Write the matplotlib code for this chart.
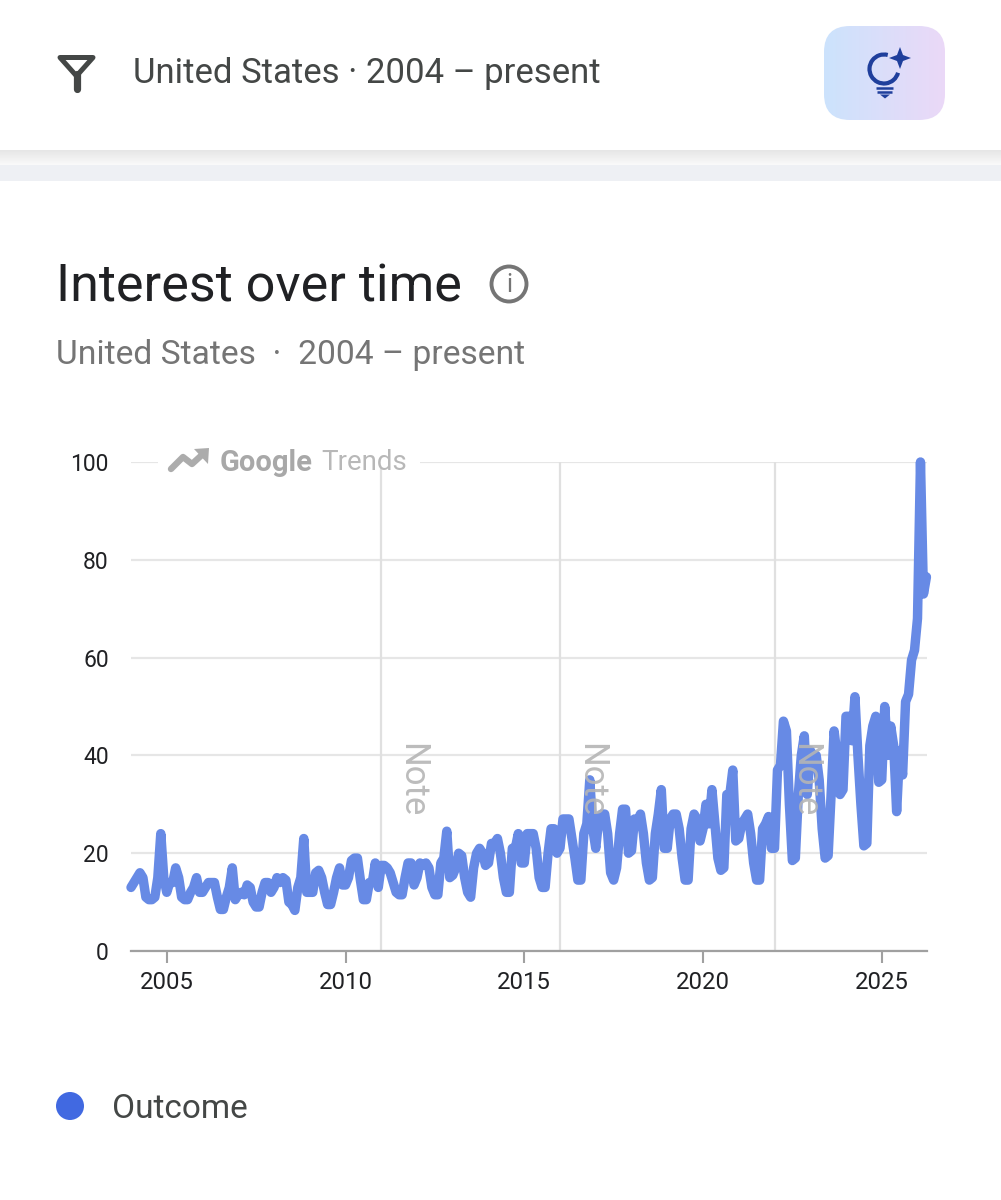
import numpy as np
import matplotlib
matplotlib.use('Agg')
import matplotlib.pyplot as plt
from matplotlib.patches import FancyBboxPatch, Circle, Polygon, Arc

plt.rcParams['font.family'] = ['Roboto', 'DejaVu Sans']

# Monthly interest values, Jan 2004 onwards
v2004 = [13, 14, 15, 16, 15, 11, 10.5, 10.5, 11, 15, 24, 15]
v2005 = [12, 14, 14, 17, 15, 11, 10.5, 10.5, 12, 13, 15, 12]
v2006 = [12, 13, 14, 14, 14, 11, 8.5, 8.5, 11, 13, 17, 10.5]
v2007 = [11.5, 12, 11.5, 13.5, 13, 10, 9, 9, 12, 14, 14, 12]
v2008 = [13, 15, 14, 15, 14.5, 10, 9.5, 8.3, 13, 15, 23, 12]
v2009 = [12, 12, 16, 16.5, 15, 12, 9.5, 9.5, 12, 15, 17, 13.5]
v2010 = [13.5, 15, 18.5, 19, 19, 14.5, 10.5, 10.5, 14, 14, 18, 13]
v2011 = [17.5, 17.5, 17, 16, 14, 12, 11.5, 11.5, 15, 18, 18, 13.5]
v2012 = [15, 18, 17.5, 18, 17, 13, 11.5, 11.5, 18, 19, 24.5, 15]
v2013 = [15.5, 17, 20, 19.5, 15, 12, 11, 17, 20, 21, 20, 17.5]
v2014 = [18, 22, 22, 23, 20, 15, 12, 12, 21, 21, 24, 18]
v2015 = [18, 24, 24, 24, 21, 15, 13, 13, 20, 25, 25, 20]
v2016 = [21, 27, 27, 27, 23, 19, 14.5, 14.5, 24, 26, 35, 25]
v2017 = [21, 27, 28, 28, 24, 16, 14.5, 17, 24, 29, 29, 20]
v2018 = [20.5, 27, 26.5, 28, 24, 18, 14.5, 15, 24, 28, 33, 21]
v2019 = [21, 27, 28, 28, 25, 19, 14.5, 14.5, 25, 28, 27, 22.5]
v2020 = [25, 30, 26, 33, 26, 19, 16.5, 17, 32, 32, 37, 22.5]
v2021 = [23, 26, 27, 28, 24, 18, 14.5, 14.5, 25, 26, 27.5, 21]
v2022 = [21, 37, 38, 47, 45, 30, 18.5, 19, 32, 40, 44, 32]
v2023 = [41, 40, 40, 35, 25, 19, 19.5, 32, 45, 40, 32, 33]
v2024 = [48, 48, 43, 52, 40, 30, 21.5, 22, 42, 46, 48, 34.5]
v2025 = [35, 50, 40, 46, 42, 28.5, 41, 36, 51, 52.5, 59.5, 61.5]
v2026 = [68, 100, 73, 76.5]

interest = (v2004 + v2005 + v2006 + v2007 + v2008 + v2009 + v2010 + v2011 + v2012
            + v2013 + v2014 + v2015 + v2016 + v2017 + v2018 + v2019 + v2020 + v2021
            + v2022 + v2023 + v2024 + v2025 + v2026)
years = [2004 + i / 12 for i in range(len(interest))]

y_ticks = [0, 20, 40, 60, 80, 100]
x_ticks = [2005, 2010, 2015, 2020, 2025]
note_years = [2011, 2016, 2022]

W, H = 1001, 1200
fig = plt.figure(figsize=(W / 100, H / 100), dpi=100, facecolor='white')

# Page furniture, in pixel coordinates
ui = fig.add_axes([0, 0, 1, 1], zorder=2)
ui.set_xlim(0, W)
ui.set_ylim(H, 0)
ui.axis('off')

# shadow under the header and the grey band
shadow = np.linspace(0.90, 0.98, 16).reshape(-1, 1)
ui.imshow(shadow, extent=[0, W, 166, 150], cmap='gray', vmin=0, vmax=1, aspect='auto')
ui.fill_between([0, W], 165, 181, color='#eef0f4', lw=0)
ui.set_xlim(0, W)
ui.set_ylim(H, 0)

# filter icon
ui.add_patch(Polygon([(60, 57.5), (93, 57.5), (76.5, 76)], closed=True, fill=False, ec='#444746',
                     lw=3.6, joinstyle='round'))
ui.plot([76.5, 76.5], [74, 89], color='#444746', lw=5.2, solid_capstyle='round')
ui.text(133, 74, 'United States · 2004 – present', fontsize=25, color='#444746', va='center')

# gradient button
grad = np.zeros((2, 60, 3))
left_col, right_col = np.array([0.80, 0.89, 0.99]), np.array([0.92, 0.85, 0.97])
for i in range(60):
    grad[:, i] = left_col + (right_col - left_col) * i / 59
btn = FancyBboxPatch((824, 26), 121, 94, boxstyle='round,pad=0,rounding_size=26', fc='none', ec='none')
ui.add_patch(btn)
im = ui.imshow(grad, extent=[824, 945, 120, 26], aspect='auto', interpolation='bilinear')
im.set_clip_path(btn)
ui.set_xlim(0, W)
ui.set_ylim(H, 0)

# bulb icon
blue = '#1f3f9c'
ui.add_patch(Arc((884, 69), 29, 29, theta1=15, theta2=285, color=blue, lw=3))
ui.plot([876, 893], [87.5, 87.5], color=blue, lw=1.8, solid_capstyle='butt')
ui.plot([877, 892], [91.5, 91.5], color=blue, lw=1.8, solid_capstyle='butt')
ui.add_patch(Polygon([(880, 94.5), (890, 94.5), (885, 98.5)], closed=True, fc=blue, ec='none'))
ui.add_patch(Polygon([(900, 47), (903, 55), (911, 58), (903, 61), (900, 69), (897, 61), (889, 58), (897, 55)],
                     closed=True, fc=blue, ec='none'))

# heading
ui.text(56, 287, 'Interest over time', fontsize=37.5, color='#202124', va='center')
ui.add_patch(Circle((509, 284), 17.5, fill=False, ec='#757575', lw=2.8))
ui.text(509, 285, 'i', fontsize=18, color='#757575', ha='center', va='center')
ui.text(56, 355, 'United States  ·  2004 – present', fontsize=24.2, color='#757575', va='center')

# legend
ui.add_patch(Circle((70, 1106), 14, fc='#4169e1', ec='none'))
ui.text(112, 1109, 'Outcome', fontsize=24, color='#444746', va='center')

# The chart itself
ax = fig.add_axes([131 / W, 1 - 951 / H, (927 - 131) / W, (951 - 462) / H], zorder=1)
ax.patch.set_alpha(0)
ax.set_xlim(2004, 2004 + (927 - 131) / 35.75)
ax.set_ylim(0, 100)
for s in ['top', 'right', 'left']:
    ax.spines[s].set_visible(False)
ax.spines['bottom'].set_color('#a0a0a0')
ax.spines['bottom'].set_linewidth(1.6)
ax.set_yticks(y_ticks)
ax.set_xticks(x_ticks)
ax.tick_params(axis='y', length=0, pad=16, labelsize=16.5, labelcolor='#202124')
ax.tick_params(axis='x', length=8.5, width=1.5, color='#a0a0a0', pad=6, labelsize=17.2, labelcolor='#202124')
ax.grid(axis='y', color='#e6e6e6', lw=1.6, zorder=1)
ax.set_axisbelow(True)
for yr in note_years:
    ax.plot([yr, yr], [0, 100], color='#e0e0e0', lw=1.6, zorder=1.5)

ax.plot(years, interest, color='#678ae5', lw=6.8, solid_joinstyle='round', solid_capstyle='round',
        clip_on=False, zorder=3)

for yr in note_years:
    ax.text(yr + 0.85, 35, 'Note', rotation=-90, fontsize=25, color='#b5b5b5', alpha=0.9,
            ha='center', va='center', zorder=4)

# Google Trends watermark sits on a white patch over the top gridline
ui.fill_between([158, 420], 454, 467, color='white', lw=0)
ui.plot([171, 183, 192, 204], [469, 457, 464, 453], color='#acacac', lw=4.6, solid_capstyle='round')
ui.add_patch(Polygon([(194, 449), (209, 448), (208, 464)], closed=True, fc='#acacac', ec='none'))
ui.text(220, 463, 'Google', fontsize=21, fontweight='bold', color='#a8a8a8', va='center')
ui.text(321, 463, 'Trends', fontsize=20, color='#b8b8b8', va='center')

fig.savefig('out.png', dpi=100)
